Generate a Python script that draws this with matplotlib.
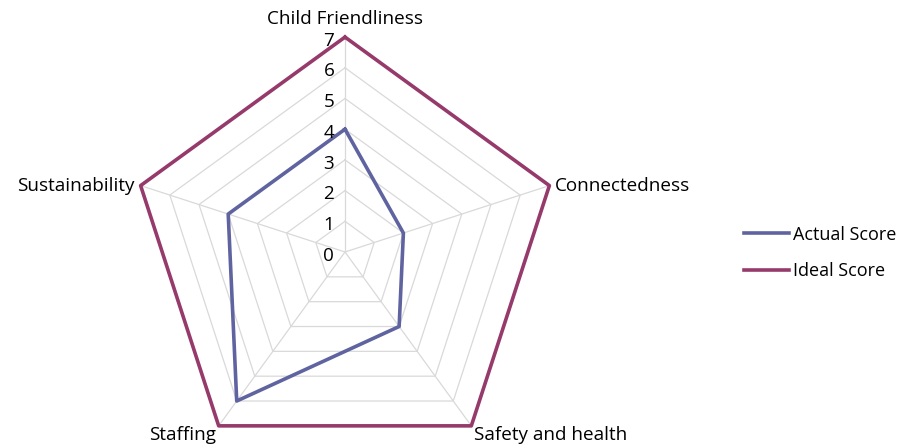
import numpy as np
import matplotlib.pyplot as plt

categories = ['Child Friendliness', 'Connectedness', 'Safety and health', 'Staffing', 'Sustainability']
actual_score = [4, 2, 3, 6, 4]
ideal_score = [7, 7, 7, 7, 7]
rings = [0, 1, 2, 3, 4, 5, 6, 7]

plt.rcParams['font.family'] = ['Open Sans', 'DejaVu Sans']

W, H = 902, 447
cx, cy, unit = 345, 252, 30.7

fig = plt.figure(figsize=(W/100, H/100), dpi=100)
ax = fig.add_axes([0, 0, 1, 1])
ax.set_xlim(-cx/unit, (W-cx)/unit)
ax.set_ylim(-(H-cy)/unit, cy/unit)
ax.axis('off')

n = len(categories)
ang = np.deg2rad(90 - 72*np.arange(n))
ca, sa = np.cos(ang), np.sin(ang)

def closed(v):
    v = np.asarray(v, float)
    x, y = v*ca, v*sa
    return np.append(x, x[0]), np.append(y, y[0])

# grid rings and spokes
for r in rings[1:]:
    gx, gy = closed([r]*n)
    ax.plot(gx, gy, color='#d9d9d9', lw=0.9, zorder=1)
for i in range(n):
    ax.plot([0, rings[-1]*ca[i]], [0, rings[-1]*sa[i]], color='#d9d9d9', lw=0.9, zorder=1)

ax_x, ax_y = closed(actual_score)
ix, iy = closed(ideal_score)
l1, = ax.plot(ax_x, ax_y, color='#5f64a0', lw=2.6, zorder=3, label='Actual Score')
l2, = ax.plot(ix, iy, color='#953a6b', lw=2.6, zorder=3, label='Ideal Score')

fs = 13.6

# radial tick labels
for r in rings:
    ax.text(-0.35, r - 0.12, str(r), ha='right', va='center', fontsize=fs, color='black')

# category labels
pos = [(0, 7.6, 'center', 'center'),
       (6.85, 2.15, 'left', 'center'),
       (4.2, -5.95, 'left', 'center'),
       (-4.2, -5.95, 'right', 'center'),
       (-6.85, 2.15, 'right', 'center')]
for lab, (x, y, ha, va) in zip(categories, pos):
    ax.text(x, y, lab, ha=ha, va=va, fontsize=fs, color='black')

leg = fig.legend(handles=[l1, l2], loc='center left', bbox_to_anchor=(744/W, 1 - 253/H),
                 frameon=False, fontsize=13, handlelength=2.5, handletextpad=0.2,
                 labelspacing=1.05, borderpad=0, borderaxespad=0)

fig.savefig('out.png', dpi=100)
